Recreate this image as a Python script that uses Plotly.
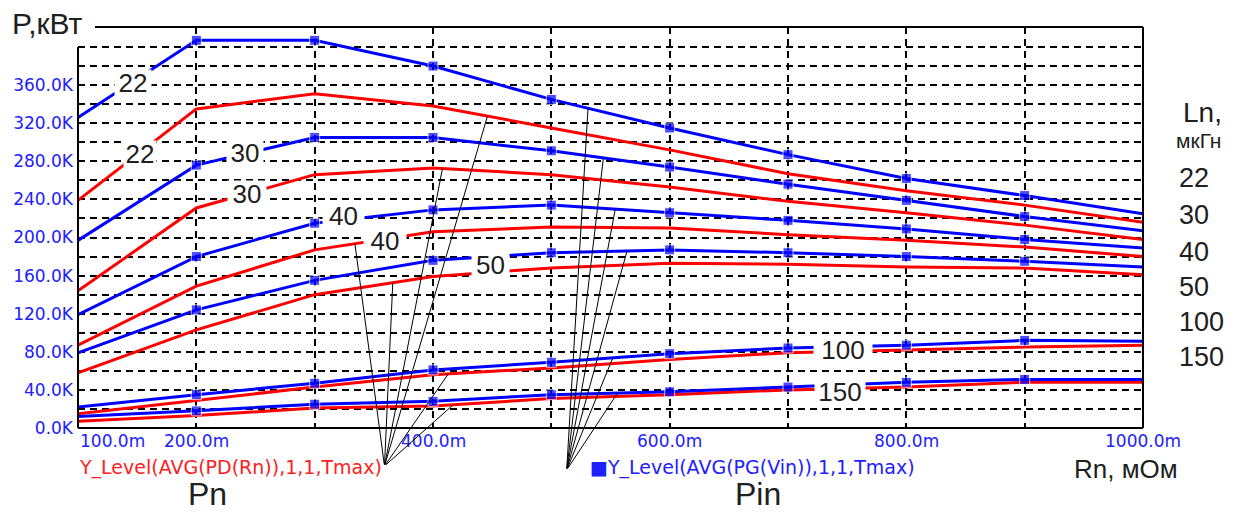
import numpy as np
import plotly.graph_objects as go

# ---------------- data ----------------
rn_mohm = [100, 200, 300, 400, 500, 600, 700, 800, 900, 1000]
ln_labels = ["22", "30", "40", "50", "100", "150"]

# Pin (blue, PG(Vin)), kW
pin_22 = [326, 407, 407, 380, 345, 315, 287, 262, 244, 225]
pin_30 = [197, 276, 305, 305, 291, 274, 256, 239, 222, 207]
pin_40 = [119, 180, 215, 229, 234, 226, 218, 209, 198, 189]
pin_50 = [79, 124, 155, 176, 184, 187, 184, 180, 175, 169]
pin_100 = [22, 35, 47, 61, 69, 78, 84, 87, 92, 91]
pin_150 = [12, 18, 25, 28, 35, 38, 43, 48, 51, 51]

# Pn (red, PD(Rn)), kW
pn_22 = [239, 335, 351, 338, 315, 292, 267, 249, 234, 216]
pn_30 = [144, 231, 266, 273, 266, 253, 238, 226, 213, 198]
pn_40 = [87, 149, 187, 206, 211, 210, 203, 197, 190, 180]
pn_50 = [58, 103, 140, 159, 168, 173, 172, 169, 168, 161]
pn_100 = [15, 29, 43, 56, 63, 72, 79, 82, 85, 87]
pn_150 = [7, 13, 21, 23, 31, 35, 40, 43, 48, 48]

pin_series = [pin_22, pin_30, pin_40, pin_50, pin_100, pin_150]
pn_series = [pn_22, pn_30, pn_40, pn_50, pn_100, pn_150]

y_tick_vals = list(range(0, 401, 20))
y_tick_text = [f"{v:.1f}K" if (v % 40 == 0 and v <= 360) else "" for v in y_tick_vals]
x_grid_vals = list(range(100, 1001, 100))
x_label_vals = [100, 200, 400, 600, 800, 1000]
x_label_text = ["100.0m", "200.0m", "400.0m", "600.0m", "800.0m", "1000.0m"]

# leader line targets (Rn position on each curve)
pn_leader_x = [446, 408, 334, 366, 413, 417]
pin_leader_x = [531, 544, 554, 564, 552, 556]
pn_leader_origin = (359, -40)
pin_leader_origin = (513, -44)

BLUE = "#0000ff"
RED = "#ff0000"
TXT = "#202020"
NARROW = "Liberation Sans Narrow, Arial Narrow, Liberation Sans, Arial, sans-serif"
WIDE = "DejaVu Sans, Verdana, sans-serif"

# plot area in pixels
L, R, T, B = 78, 1143, 27, 428
W, H = R - L, B - T


def pxx(x):
    return (x - L) / W


def pxy(y):
    return (B - y) / H


fig = go.Figure()

for s in pn_series:
    fig.add_trace(go.Scatter(x=rn_mohm, y=s, mode="lines",
                             line=dict(color=RED, width=3), hoverinfo="skip"))

msize = [0] + [10] * (len(rn_mohm) - 2) + [0]
for s in pin_series:
    fig.add_trace(go.Scatter(x=rn_mohm, y=s, mode="lines+markers",
                             line=dict(color=BLUE, width=3),
                             marker=dict(symbol="square", size=msize, color=BLUE),
                             hoverinfo="skip"))

annotations = []

# x tick labels
for v, t in zip(x_label_vals, x_label_text):
    annotations.append(dict(x=v, xref="x", y=pxy(441), yref="paper", text=t,
                            showarrow=False, xanchor="left" if v == 100 else "center",
                            yanchor="middle",
                            font=dict(family=WIDE, size=17, color="#2020ff")))

# in-plot curve labels (with white boxes producing the gaps)
curve_labels = [
    ("22", 133, 83, 36, 26),
    ("22", 140, 154, 32, 26),
    ("30", 245, 153, 36, 26),
    ("30", 247, 194, 38, 26),
    ("40", 343, 216, 41, 26),
    ("40", 385, 241, 42, 24),
    ("50", 490, 265, 37, 32),
    ("100", 843, 350, 58, 26),
    ("150", 840, 392, 50, 26),
]
for t, cx, cy, bw, bh in curve_labels:
    annotations.append(dict(x=pxx(cx), y=pxy(cy), xref="paper", yref="paper", text=t,
                            showarrow=False, xanchor="center", yanchor="middle",
                            width=bw, height=bh, bgcolor="white", borderpad=0,
                            font=dict(family=NARROW, size=26, color=TXT)))

# leader lines
for xs, series, org in [(pn_leader_x, pn_series, pn_leader_origin),
                        (pin_leader_x, pin_series, pin_leader_origin)]:
    for xv, s in zip(xs, series):
        yv = float(np.interp(xv, rn_mohm, s))
        annotations.append(dict(x=xv, y=yv, xref="x", yref="y", ax=org[0], ay=org[1],
                                axref="x", ayref="y", text="", showarrow=True,
                                arrowhead=0, arrowwidth=1, arrowcolor="black",
                                standoff=0, startstandoff=0))

# other texts
annotations += [
    dict(x=pxx(10), y=pxy(24), text="P,кВт", xanchor="left", yanchor="middle",
         font=dict(family=NARROW, size=30, color=TXT)),
    dict(x=pxx(384), y=pxy(467), text="Y_Level(AVG(PD(Rn)),1,1,Tmax)", xanchor="right",
         yanchor="middle", font=dict(family=WIDE, size=19, color="#ff2020")),
    dict(x=pxx(588), y=pxy(467), text="■Y_Level(AVG(PG(Vin)),1,1,Tmax)", xanchor="left",
         yanchor="middle", font=dict(family=WIDE, size=19, color="#2020ff")),
    dict(x=pxx(207), y=pxy(494), text="Pn", xanchor="center", yanchor="middle",
         font=dict(family=NARROW, size=32, color=TXT)),
    dict(x=pxx(758), y=pxy(494), text="Pin", xanchor="center", yanchor="middle",
         font=dict(family=NARROW, size=32, color=TXT)),
    dict(x=pxx(1072), y=pxy(469), text="Rn, мОм", xanchor="left", yanchor="middle",
         font=dict(family=NARROW, size=26, color=TXT)),
    dict(x=pxx(1181), y=pxy(112), text="Ln,", xanchor="left", yanchor="middle",
         font=dict(family=NARROW, size=28, color=TXT)),
    dict(x=pxx(1174), y=pxy(141), text="мкГн", xanchor="left", yanchor="middle",
         font=dict(family=NARROW, size=21, color=TXT)),
]
for t, cy in zip(ln_labels, [178, 215, 252, 287, 322, 357]):
    annotations.append(dict(x=pxx(1177), y=pxy(cy), text=t, xanchor="left", yanchor="middle",
                            font=dict(family=NARROW, size=27, color=TXT)))

for a in annotations:
    a.setdefault("xref", "paper")
    a.setdefault("yref", "paper")
    a.setdefault("showarrow", False)

# frame
frame = dict(type="line", xref="paper", yref="paper", line=dict(color="black", width=2))
shapes = [
    dict(frame, x0=0, x1=1, y0=0, y1=0),
    dict(frame, x0=0, x1=0, y0=0, y1=pxy(47)),
    dict(frame, x0=1, x1=1, y0=0, y1=1),
    dict(frame, x0=pxx(95), x1=1, y0=1, y1=1),
]

fig.update_layout(
    width=1239, height=515,
    margin=dict(l=L, r=1239 - R, t=T, b=515 - B, pad=0),
    paper_bgcolor="white", plot_bgcolor="white",
    showlegend=False,
    xaxis=dict(range=[100, 1000], tickvals=x_grid_vals, showticklabels=False,
               showgrid=True, gridcolor="black", gridwidth=1.5, griddash="7px,5px",
               zeroline=False, showline=False, ticks=""),
    yaxis=dict(range=[0, 421], tickvals=y_tick_vals, ticktext=y_tick_text,
               showgrid=True, gridcolor="black", gridwidth=1.5, griddash="7px,5px",
               zeroline=False, showline=False, ticks="", ticklabelstandoff=4,
               tickfont=dict(family=WIDE, size=17, color="#2020ff")),
    annotations=annotations,
    shapes=shapes,
)

fig.write_html("out.html", config={"displayModeBar": False},
               post_script="document.body.style.margin='0';")
